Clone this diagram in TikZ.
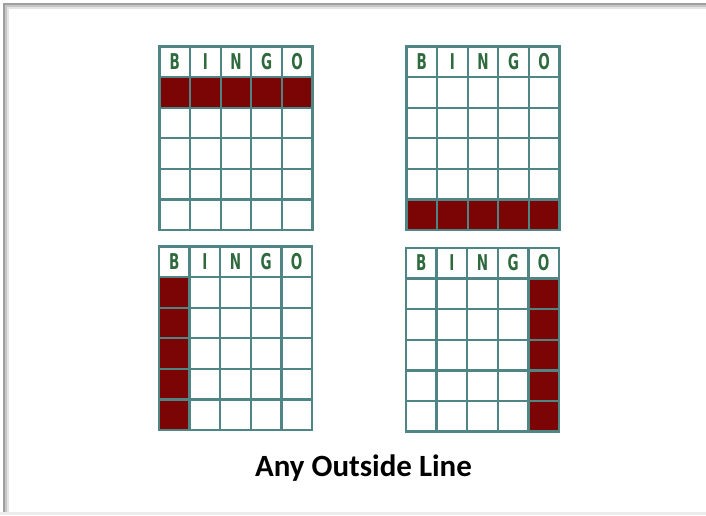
\documentclass[tikz,border=0pt]{standalone}
\usepackage{graphicx}
\usepackage{fontspec}
\setmainfont{Carlito}
\newfontfamily\cardfont{DejaVu Sans}
\definecolor{gridline}{HTML}{4F8585}
\definecolor{hitred}{HTML}{7B0505}
\definecolor{lettergreen}{HTML}{2F6A3E}
\newcommand\cellsz{30.6}

% one card: name, x, y, list of marked col/row
\newcommand\bingocard[4]{%
  \begin{scope}[shift={(#2,#3)}]
    \foreach \col/\ch in {0/B,1/I,2/N,3/G,4/O}
      \node[letter] (#1-\ch) at ({(\col+0.5)*\cellsz},22.5) {\scalebox{0.62}[1]{\ch}};
    \foreach \col/\row in {#4}
      \fill[hitred] (\col*\cellsz,\row*\cellsz) rectangle ++(\cellsz,\cellsz);
    \foreach \i in {0,...,5}
      \draw[gridpen] (\i*\cellsz,0) -- (\i*\cellsz,6*\cellsz);
    \foreach \j in {0,...,6}
      \draw[gridpen] (0,\j*\cellsz) -- (5*\cellsz,\j*\cellsz);
  \end{scope}}

\begin{document}
\begin{tikzpicture}[x=0.025cm, y=-0.025cm,
  letter/.style={anchor=base, inner sep=0pt, text=lettergreen,
    font=\cardfont\bfseries\fontsize{15.5}{18}\selectfont},
  gridpen/.style={gridline, line width=1.6pt, line cap=rect},
  title/.style={anchor=base, inner sep=0pt,
    font=\bfseries\fontsize{22}{26}\selectfont}
]
  \useasboundingbox (0,0) rectangle (706,515);
  % slide frame with shadow
  \fill[white] (0,0) rectangle (706,515);
  \fill[gray!75] (3,3) rectangle (706,512);
  \fill[gray!45] (5,5) rectangle (706,512);
  \fill[gray!20] (7,7) rectangle (706,512);
  \fill[white] (9,9) rectangle (706,512);
  \fill[gray!15] (0,512) rectangle (706,515);

  % the four cards
  \bingocard{top}{159.5}{46.5}{0/1,1/1,2/1,3/1,4/1}
  \bingocard{bottom}{406.5}{46.5}{0/5,1/5,2/5,3/5,4/5}
  \bingocard{left}{159}{246.5}{0/1,0/2,0/3,0/4,0/5}
  \bingocard{right}{406}{248}{4/1,4/2,4/3,4/4,4/5}

  % caption
  \node[title] (caption) at (363.5,476.5) {Any Outside Line};
\end{tikzpicture}
\end{document}
